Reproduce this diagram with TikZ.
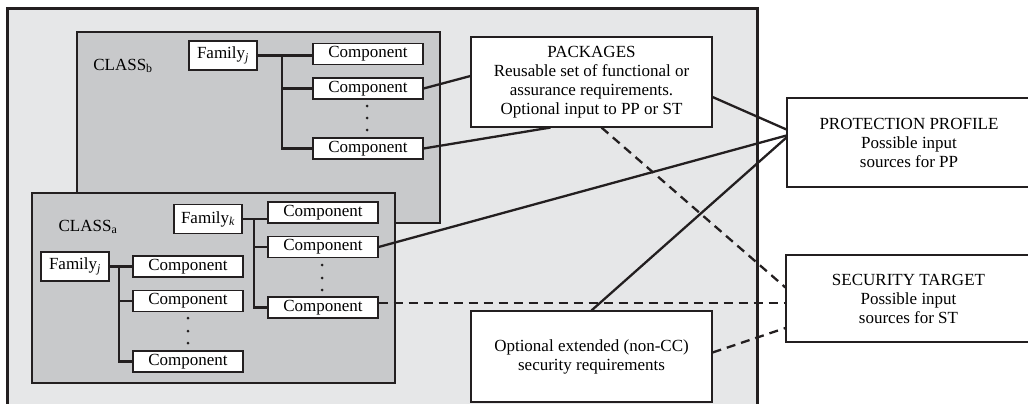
\documentclass[tikz,border=0pt]{standalone}
\usepackage{fontspec}
\setmainfont{Liberation Serif}
\usepackage{tikz}
\usepackage{xcolor}
\definecolor{outergray}{HTML}{E6E7E8}
\definecolor{classgray}{HTML}{C8C9CB}
\definecolor{ink}{HTML}{231F20}

\begin{document}
\begin{tikzpicture}[x=1pt, y=-1pt, font=\fontsize{17}{19}\selectfont,
    comp/.style={draw=ink, fill=white, line width=1.1pt, minimum width=110pt, minimum height=21pt, inner sep=0pt},
    fam/.style={draw=ink, fill=white, line width=1.1pt, minimum width=68pt, minimum height=29pt, inner sep=0pt},
    bigbox/.style={draw=ink, fill=white, line width=1.1pt, align=center, inner sep=0pt},
    tree/.style={ink, line width=2.6pt},
    link/.style={ink, line width=2.3pt},
    optlink/.style={ink, line width=2.3pt, dash pattern=on 9pt off 6pt}]
    \useasboundingbox (0,0) rectangle (1028,404);
    \draw[ink, line width=3pt, fill=outergray] (7,9) rectangle (757,412);
    \draw[ink, line width=2.6pt, fill=classgray] (77,32) rectangle (440,223);
    \draw[ink, line width=2.6pt, fill=classgray] (32,193) rectangle (395,383);

    \node (lb) at (123,66) {CLASS\textsubscript{b}};
    \node[fam] (fb) at (223,55.5) {Family\textsubscript{\itshape j}};
    \node[comp] (cb1) at (368,54) {Component};
    \node[comp] (cb2) at (368,88.5) {Component};
    \node[comp] (cb3) at (368,148.5) {Component};
    \coordinate (tb) at (282,56);
    \draw[tree] (fb.east) -- (fb.east -| cb1.west);
    \draw[tree] (tb) |- (cb2.west);
    \draw[tree] (tb) |- (cb3.west);
    \foreach \y in {106,118,130}
        \fill[ink] (367,\y) circle (1.5pt);

    \node (la) at (88,227) {CLASS\textsubscript{a}};
    \node[fam] (fk) at (208,219) {Family\textsubscript{\itshape k}};
    \node[comp] (ca1) at (323,212.5) {Component};
    \node[comp] (ca2) at (323,247) {Component};
    \node[comp] (ca3) at (323,307.5) {Component};
    \coordinate (tk) at (254,219);
    \draw[tree] (fk.east) -- (fk.east -| ca1.west);
    \draw[tree] (tk) |- (ca2.west);
    \draw[tree] (tk) |- (ca3.west);
    \foreach \y in {265,278,290}
        \fill[ink] (322,\y) circle (1.5pt);

    \node[fam] (fj) at (75,266.5) {Family\textsubscript{\itshape j}};
    \node[comp] (cj1) at (188,266.5) {Component};
    \node[comp] (cj2) at (188,301) {Component};
    \node[comp] (cj3) at (188,361.5) {Component};
    \coordinate (tj) at (119,266.5);
    \draw[tree] (fj.east) -- (cj1.west);
    \draw[tree] (tj) |- (cj2.west);
    \draw[tree] (tj) |- (cj3.west);
    \foreach \y in {318,331,343}
        \fill[ink] (188,\y) circle (1.5pt);

    \node[bigbox, minimum width=241pt, minimum height=90pt] (pkg) at (591.5,82)
        {PACKAGES\\Reusable set of functional or\\assurance requirements.\\Optional input to PP or ST};
    \node[bigbox, minimum width=241pt, minimum height=91pt] (ext) at (591.5,356.5)
        {Optional extended (non-CC)\\security requirements};
    \node[bigbox, minimum width=244pt, minimum height=89pt] (pp) at (909,142.5)
        {PROTECTION PROFILE\\Possible input\\sources for PP};
    \node[bigbox, minimum width=245pt, minimum height=87pt] (st) at (908.5,298.5)
        {SECURITY TARGET\\Possible input\\sources for ST};

    \draw[link] (cb2.east) -- ([yshift=6pt]pkg.west);
    \draw[link] (cb3.east) -- ([xshift=-41pt]pkg.south);
    \draw[link] ([yshift=-15pt]pkg.east) -- ([yshift=13pt]pp.west);
    \draw[link] (ca2.east) -- ([yshift=7pt]pp.west);
    \draw[link] (ext.north) -- ([yshift=5pt]pp.west);
    \draw[optlink] ([xshift=10pt]pkg.south) -- ([yshift=11pt]st.west);
    \draw[optlink] ([yshift=4.5pt]ca3.east) -- ([yshift=-4.5pt]st.west);
    \draw[optlink] ([yshift=4pt]ext.east) -- ([yshift=-29.5pt]st.west);
\end{tikzpicture}
\end{document}
